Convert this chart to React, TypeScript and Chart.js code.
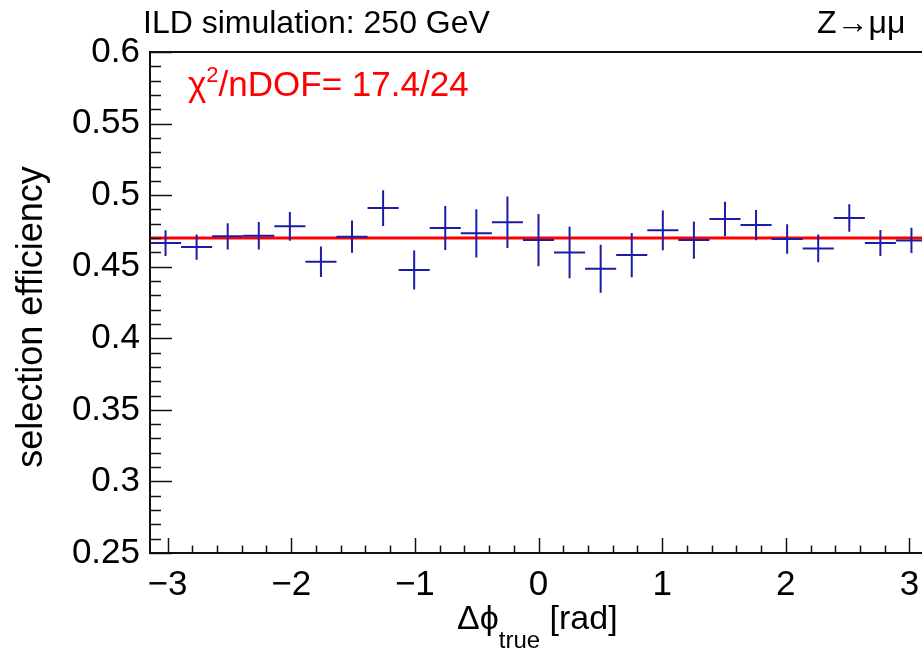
import React, { useEffect, useRef } from "react";
import { Chart, registerables } from "chart.js";

Chart.register(...registerables);

// ---- data ----
const binCenters = [
  -3.0159, -2.7646, -2.5133, -2.2619, -2.0106, -1.7593, -1.508, -1.2566, -1.0053,
  -0.754, -0.5027, -0.2513, 0.0, 0.2513, 0.5027, 0.754, 1.0053, 1.2566, 1.508,
  1.7593, 2.0106, 2.2619, 2.5133, 2.7646, 3.0159,
];
const binHalfWidth = 0.12566;
const efficiency = [
  0.4665, 0.4637, 0.4712, 0.4717, 0.4782, 0.4535, 0.471, 0.491, 0.4477, 0.477,
  0.4733, 0.481, 0.4686, 0.46, 0.4486, 0.4581, 0.4754, 0.4686, 0.4833, 0.4791,
  0.4693, 0.4628, 0.484, 0.4665, 0.4684,
];
const efficiencyError = [
  0.009, 0.0088, 0.0092, 0.0096, 0.01, 0.0107, 0.0113, 0.0125, 0.0137, 0.0154,
  0.0168, 0.018, 0.0182, 0.018, 0.0168, 0.0154, 0.0139, 0.013, 0.012, 0.0106,
  0.0103, 0.0097, 0.0096, 0.0091, 0.0089,
];
const fitValue = 0.47;
const xMin = -3.14159;
const xMax = 3.14159;
const yMin = 0.25;
const yMax = 0.6;
const xTickValues = [-3, -2, -1, 0, 1, 2, 3];
const xTickLabels = ["\u22123", "\u22122", "\u22121", "0", "1", "2", "3"];
const yTickValues = [0.25, 0.3, 0.35, 0.4, 0.45, 0.5, 0.55, 0.6];
const yTickLabels = ["0.25", "0.3", "0.35", "0.4", "0.45", "0.5", "0.55", "0.6"];

const FONT = "'Liberation Sans', Arial, Helvetica, sans-serif";

const rootStyle = {
  id: "rootStyle",
  afterDatasetsDraw(chart: any) {
    const { ctx, chartArea: a, scales } = chart;
    const x = scales.x;
    const y = scales.y;
    ctx.save();

    // error crosses
    const ds = chart.data.datasets[1];
    ctx.strokeStyle = "#1c1ca6";
    ctx.lineWidth = 2;
    ds.data.forEach((p: any) => {
      const px = x.getPixelForValue(p.x);
      const py = y.getPixelForValue(p.y);
      const x0 = x.getPixelForValue(p.x - p.xerr);
      const x1 = x.getPixelForValue(p.x + p.xerr);
      const y0 = y.getPixelForValue(p.y - p.yerr);
      const y1 = y.getPixelForValue(p.y + p.yerr);
      ctx.beginPath();
      ctx.moveTo(x0, py);
      ctx.lineTo(x1, py);
      ctx.moveTo(px, y0);
      ctx.lineTo(px, y1);
      ctx.stroke();
    });

    // frame
    ctx.strokeStyle = "#111";
    ctx.lineWidth = 2;
    ctx.strokeRect(a.left, a.top, a.right - a.left, a.bottom - a.top);

    // ticks
    ctx.lineWidth = 1.5;
    ctx.beginPath();
    for (let k = 0; k <= 35; k++) {
      const v = yMin + k * 0.01;
      const py = Math.round(y.getPixelForValue(v)) + 0.5;
      const len = k % 5 === 0 ? 22 : 11;
      ctx.moveTo(a.left, py);
      ctx.lineTo(a.left + len, py);
    }
    for (let k = -15; k <= 15; k++) {
      const v = k * 0.2;
      const px = Math.round(x.getPixelForValue(v)) + 0.5;
      const len = k % 5 === 0 ? 15 : 7.5;
      ctx.moveTo(px, a.bottom);
      ctx.lineTo(px, a.bottom - len);
    }
    ctx.stroke();

    // texts
    ctx.fillStyle = "#000";
    ctx.textBaseline = "alphabetic";
    ctx.textAlign = "left";
    ctx.font = `32px ${FONT}`;
    ctx.fillText("ILD simulation: 250 GeV", 143, 33);
    ctx.fillText("Z\u2192\u03bc\u03bc", 817, 33);

    // chi2 label
    ctx.fillStyle = "#ff0000";
    let cx = 188;
    ctx.font = `35px ${FONT}`;
    ctx.fillText("\u03c7", cx, 96);
    cx += ctx.measureText("\u03c7").width;
    ctx.font = `22px ${FONT}`;
    ctx.fillText("2", cx, 82);
    cx += ctx.measureText("2").width;
    ctx.font = `35px ${FONT}`;
    ctx.fillText("/nDOF= 17.4/24", cx, 96);

    // x title
    ctx.fillStyle = "#000";
    let tx = 457;
    ctx.font = `34px ${FONT}`;
    ctx.fillText("\u0394\u03d5", tx, 629);
    tx += ctx.measureText("\u0394\u03d5").width;
    ctx.font = `24px ${FONT}`;
    ctx.fillText("true", tx, 648);
    tx += ctx.measureText("true").width;
    ctx.font = `34px ${FONT}`;
    ctx.fillText(" [rad]", tx, 629);

    // y title
    ctx.save();
    ctx.translate(42, 317);
    ctx.rotate(-Math.PI / 2);
    ctx.textAlign = "center";
    ctx.font = `36px ${FONT}`;
    ctx.fillText("selection efficiency", 0, 0);
    ctx.restore();

    ctx.restore();
  },
};

export default function App() {
  const ref = useRef<HTMLCanvasElement | null>(null);
  useEffect(() => {
    document.body.style.margin = "0";
    document.body.style.overflow = "hidden";
    const canvas = ref.current!;
    const chart = new Chart(canvas, {
      type: "scatter",
      data: {
        datasets: [
          {
            type: "line",
            label: "fit",
            data: [
              { x: xMin, y: fitValue },
              { x: xMax, y: fitValue },
            ],
            borderColor: "#ff0000",
            borderWidth: 3,
            pointRadius: 0,
            fill: false,
          },
          {
            type: "scatter",
            label: "efficiency",
            data: binCenters.map((c, i) => ({
              x: c,
              y: efficiency[i],
              xerr: binHalfWidth,
              yerr: efficiencyError[i],
            })),
            pointRadius: 0,
            backgroundColor: "#1c1ca6",
            borderColor: "#1c1ca6",
          },
        ],
      },
      options: {
        animation: false,
        responsive: false,
        maintainAspectRatio: false,
        layout: { padding: { top: 52, right: 13, left: 0, bottom: 0 } },
        plugins: { legend: { display: false }, tooltip: { enabled: false }, title: { display: false } },
        scales: {
          x: {
            type: "linear",
            min: xMin,
            max: xMax,
            grid: { display: false, drawTicks: false },
            border: { display: false },
            afterBuildTicks: (s: any) => {
              s.ticks = xTickValues.map((v) => ({ value: v }));
            },
            afterFit: (s: any) => {
              s.height = 100;
            },
            ticks: {
              autoSkip: false,
              maxRotation: 0,
              padding: 11,
              color: "#000",
              font: { family: FONT, size: 35 },
              callback: (v: any) => {
                const i = xTickValues.indexOf(Number(v));
                return i >= 0 ? xTickLabels[i] : "";
              },
            },
          },
          y: {
            type: "linear",
            min: yMin,
            max: yMax,
            grid: { display: false, drawTicks: false },
            border: { display: false },
            afterBuildTicks: (s: any) => {
              s.ticks = yTickValues.map((v) => ({ value: v }));
            },
            afterFit: (s: any) => {
              s.width = 150;
            },
            ticks: {
              autoSkip: false,
              padding: 10,
              color: "#000",
              font: { family: FONT, size: 35 },
              callback: (v: any) => {
                const i = yTickValues.findIndex((t) => Math.abs(t - Number(v)) < 1e-6);
                return i >= 0 ? yTickLabels[i] : "";
              },
            },
          },
        },
      },
      plugins: [rootStyle],
    });
    return () => chart.destroy();
  }, []);
  return (
    <div style={{ position: "fixed", left: 0, top: 0, width: 940, height: 653, background: "#fff" }}>
      <canvas ref={ref} width={940} height={653} style={{ width: 940, height: 653, display: "block" }} />
    </div>
  );
}
